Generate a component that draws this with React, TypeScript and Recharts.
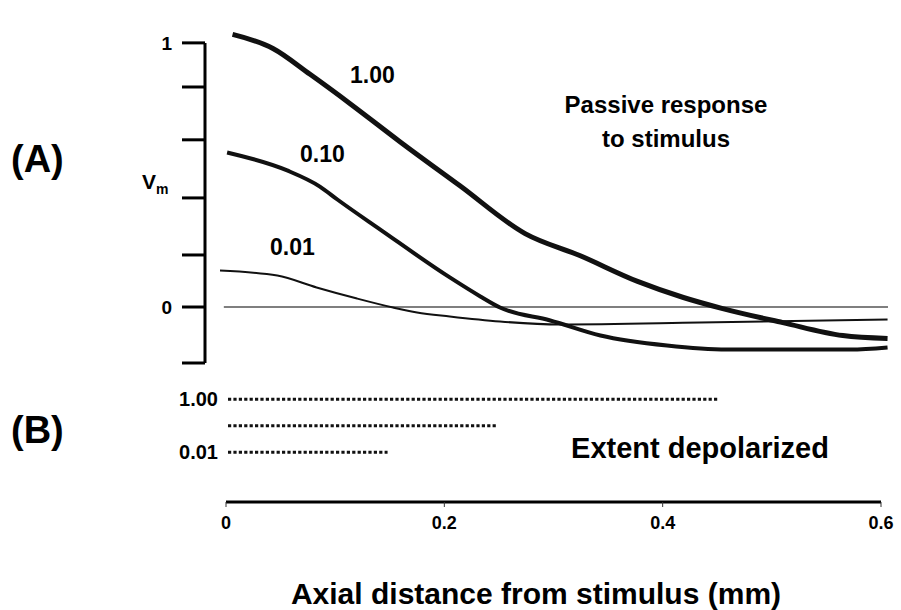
import { LineChart, Line, XAxis, YAxis, ReferenceLine, BarChart, Bar } from 'recharts';

const FONT = '"Liberation Sans", Arial, Helvetica, sans-serif';

// (A) passive response: Vm against axial distance (mm), one curve per stimulus strength
const dist100 = [0.006, 0.043, 0.077, 0.114, 0.159, 0.214, 0.274, 0.324, 0.377, 0.419, 0.455, 0.51, 0.565, 0.606];
const vm100 = [1.032, 0.979, 0.881, 0.769, 0.627, 0.46, 0.278, 0.195, 0.097, 0.036, -0.006, -0.059, -0.108, -0.119];

const dist010 = [0.001, 0.056, 0.086, 0.102, 0.141, 0.205, 0.233, 0.251, 0.297, 0.343, 0.404, 0.459, 0.572, 0.606];
const vm010 = [0.585, 0.517, 0.456, 0.407, 0.294, 0.112, 0.04, -0.002, -0.051, -0.108, -0.146, -0.161, -0.161, -0.153];

const dist001 = [-0.0055, 0.047, 0.083, 0.12, 0.153, 0.175, 0.205, 0.251, 0.306, 0.434, 0.606];
const vm001 = [0.138, 0.119, 0.074, 0.032, -0.002, -0.021, -0.036, -0.055, -0.066, -0.059, -0.047];

const vmTicks = [1, 0.833, 0.633, 0.413, 0.197, 0, -0.212];

// (B) extent depolarized for each stimulus
const extentLabels = ['1.00', '0.10', '0.01'];
const extentEnd = [0.451, 0.248, 0.148];

const distTicks = [0, 0.2, 0.4, 0.6];

const X_MIN = -0.01924;
const X_MAX = 0.60824;

const toPoints = (xs: number[], ys: number[]) => xs.map((x, i) => ({ x, y: ys[i] }));

function DottedExtent(props: any) {
  const { x, y, width, height } = props;
  const cy = y + height / 2;
  return (
    <line x1={x + 2} x2={x + width} y1={cy} y2={cy} stroke="#111" strokeWidth={3} strokeDasharray="3.2 2.2" />
  );
}

export default function App() {
  const extentData = extentLabels.map((label, i) => ({ label, extent: extentEnd[i] }));
  const textStyle = { fontFamily: FONT, fontWeight: 700, fill: '#000' } as const;

  return (
    <div style={{ position: 'absolute', left: 0, top: 0, width: 901, height: 610, background: '#fff' }}>
      <div style={{ position: 'absolute', left: 0, top: 0 }}>
        <LineChart width={901} height={380} margin={{ top: 31, right: 11, bottom: 17, left: 145 }}>
          <XAxis type="number" dataKey="x" domain={[X_MIN, X_MAX]} hide />
          <YAxis
            type="number"
            domain={[vmTicks[vmTicks.length - 1], 1.045]}
            ticks={vmTicks}
            width={60}
            tickSize={23}
            tickMargin={10}
            axisLine={false}
            tickLine={{ stroke: '#000', strokeWidth: 3 }}
            tick={{ fill: '#000', fontSize: 19, fontWeight: 700, fontFamily: FONT }}
            tickFormatter={(v: number) => (v === 1 ? '1' : v === 0 ? '0' : '')}
          />
          {/* vertical Vm axis, only from the lowest tick up to 1 */}
          <ReferenceLine
            segment={[{ x: X_MIN, y: vmTicks[vmTicks.length - 1] }, { x: X_MIN, y: 1 }]}
            stroke="#000"
            strokeWidth={3}
            ifOverflow="visible"
          />
          <ReferenceLine
            segment={[{ x: -0.002, y: 0 }, { x: 0.6064, y: 0 }]}
            stroke="#555"
            strokeWidth={1.5}
          />
          <Line
            data={toPoints(dist001, vm001)}
            dataKey="y"
            type="monotone"
            stroke="#111"
            strokeWidth={2}
            dot={false}
            activeDot={false}
            isAnimationActive={false}
          />
          <Line
            data={toPoints(dist010, vm010)}
            dataKey="y"
            type="monotone"
            stroke="#111"
            strokeWidth={4}
            dot={false}
            activeDot={false}
            isAnimationActive={false}
          />
          <Line
            data={toPoints(dist100, vm100)}
            dataKey="y"
            type="monotone"
            stroke="#111"
            strokeWidth={5}
            dot={false}
            activeDot={false}
            isAnimationActive={false}
          />
        </LineChart>
      </div>

      <div style={{ position: 'absolute', left: 0, top: 370 }}>
        <BarChart
          width={901}
          height={170}
          layout="vertical"
          data={extentData}
          margin={{ top: 16, right: 20, bottom: 0, left: 146 }}
        >
          <XAxis
            type="number"
            domain={[0, 0.6]}
            ticks={distTicks}
            height={38}
            tickSize={5}
            tickMargin={9}
            axisLine={{ stroke: '#000', strokeWidth: 3 }}
            tickLine={{ stroke: '#333', strokeWidth: 1 }}
            tick={{ fill: '#000', fontSize: 18, fontWeight: 700, fontFamily: FONT }}
            tickFormatter={(v: number) => (v === 0 ? '0' : v.toFixed(1))}
          />
          <YAxis
            type="category"
            dataKey="label"
            width={80}
            padding={{ top: 0, bottom: 36.5 }}
            axisLine={false}
            tickLine={false}
            tick={{ fill: '#000', fontSize: 20, fontWeight: 700, fontFamily: FONT }}
            tickFormatter={(v: string) => (v === '0.10' ? '' : v)}
          />
          <Bar dataKey="extent" shape={DottedExtent} isAnimationActive={false} />
        </BarChart>
      </div>

      <svg width={901} height={610} style={{ position: 'absolute', left: 0, top: 0, pointerEvents: 'none' }}>
        <text x={11} y={172} fontSize={38} {...textStyle}>(A)</text>
        <text x={11} y={443} fontSize={38} {...textStyle}>(B)</text>
        <text x={142} y={189} fontSize={21} {...textStyle}>
          V<tspan fontSize={14} dy={5}>m</tspan>
        </text>
        <text x={350} y={83} fontSize={23} {...textStyle}>1.00</text>
        <text x={300} y={162} fontSize={23} {...textStyle}>0.10</text>
        <text x={270} y={255} fontSize={23} {...textStyle}>0.01</text>
        <text x={666} y={113} fontSize={24} textAnchor="middle" {...textStyle}>Passive response</text>
        <text x={666} y={147} fontSize={24} textAnchor="middle" {...textStyle}>to stimulus</text>
        <text x={700} y={458} fontSize={29} textAnchor="middle" {...textStyle}>Extent depolarized</text>
        <text x={536} y={604} fontSize={30} textAnchor="middle" {...textStyle}>Axial distance from stimulus (mm)</text>
      </svg>
    </div>
  );
}
